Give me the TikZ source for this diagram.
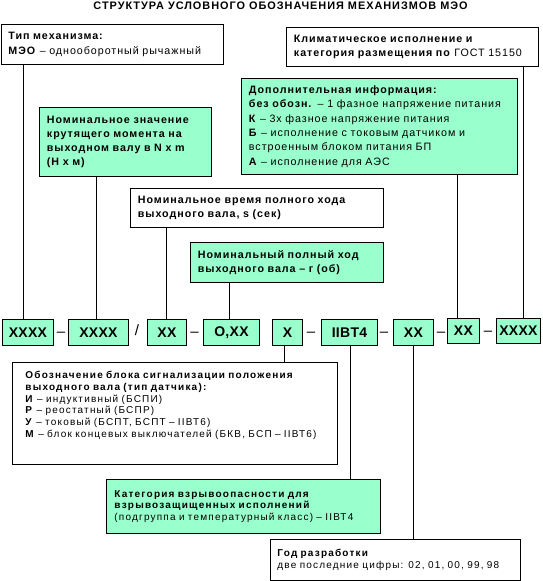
\documentclass[tikz,border=0pt]{standalone}
\usepackage{fontspec}
\setmainfont{Liberation Sans}[LetterSpace=9]
\definecolor{mint}{RGB}{153,255,204}

\begin{document}
\begin{tikzpicture}
   [x=1pt, y=-1pt, line width=0.9pt,
    plainbox/.style={draw, anchor=north west, align=left, inner xsep=7.5pt, inner ysep=0pt,
       font=\fontsize{10.7}{14.3}\selectfont},
    smallbox/.style={plainbox, inner xsep=8pt,
       font=\fontsize{10}{11.7}\selectfont\addfontfeatures{LetterSpace=12}},
    codebox/.style={draw, fill=mint, anchor=north west, inner sep=0pt,
       font=\fontsize{14}{15}\selectfont\addfontfeatures{LetterSpace=2}\bfseries},
    septext/.style={inner sep=0pt, font=\fontsize{15}{15}\selectfont}]
   \useasboundingbox (0,0) rectangle (543,581);

   \node[anchor=base, font=\fontsize{10.9}{12}\selectfont\bfseries] (title) at (280.5,9.5)
      {СТРУКТУРА УСЛОВНОГО ОБОЗНАЧЕНИЯ МЕХАНИЗМОВ МЭО};

   % upper boxes
   \node[plainbox, text width=207.5pt, minimum height=40pt] (mech) at (0.5,24)
      {\textbf{Тип механизма:}\\\textbf{МЭО} – однооборотный рычажный};
   \node[plainbox, fill=mint, text width=157pt, minimum height=69pt] (torque) at (39,107)
      {\textbf{Номинальное значение}\\\textbf{крутящего момента на}\\
       \textbf{выходном валу в N x m}\\\textbf{(Н х м)}};
   \node[plainbox, text width=237pt, minimum height=39pt] (clim) at (286,27)
      {\textbf{Климатическое исполнение и}\\\textbf{категория размещения по} ГОСТ 15150};
   \node[plainbox, fill=mint, text width=261pt, minimum height=96pt] (extra) at (241,78)
      {\textbf{Дополнительная информация:}\\
       \textbf{без обозн.} – 1 фазное напряжение питания\\
       \textbf{К} – 3х фазное напряжение питания\\
       \textbf{Б} – исполнение с токовым датчиком и\\
       встроенным блоком питания БП\\
       \textbf{А} – исполнение для АЭС};
   \node[plainbox, text width=238pt, minimum height=39pt] (time) at (130,188)
      {\textbf{Номинальное время полного хода}\\\textbf{выходного вала, s (сек)}};
   \node[plainbox, fill=mint, text width=178pt, minimum height=40pt] (stroke) at (190,242)
      {\textbf{Номинальный полный ход}\\\textbf{выходного вала – г (об)}};

   % code row
   \node[codebox, minimum width=51pt, minimum height=26pt] (c1) at (2,319) {XXXX};
   \node[codebox, minimum width=60pt, minimum height=26pt] (c2) at (68,319) {XXXX};
   \node[codebox, minimum width=39pt, minimum height=26pt] (c3) at (147,319) {XX};
   \node[codebox, minimum width=56pt, minimum height=26pt] (c4) at (203,319) {O,XX};
   \node[codebox, minimum width=30pt, minimum height=26pt] (c5) at (272,319) {X};
   \node[codebox, minimum width=56pt, minimum height=26pt] (c6) at (321,319) {IIBT4};
   \node[codebox, minimum width=40pt, minimum height=26pt] (c7) at (393,319) {XX};
   \node[codebox, minimum width=32pt, minimum height=25pt] (c8) at (447,318) {XX};
   \node[codebox, minimum width=44pt, minimum height=25pt] (c9) at (496,318) {XXXX};

   \node[septext] (d1) at (61,334) {–};
   \node[septext] (sl) at (137,330.5) {/};
   \node[septext] (d2) at (194.5,334) {–};
   \node[septext] (d3) at (311,334) {–};
   \node[septext] (d4) at (384,334) {–};
   \node[septext] (d5) at (441,334) {–};
   \node[septext] (d6) at (488,333) {–};

   % lower boxes
   \node[smallbox, inner xsep=13pt, text width=299pt, minimum height=102pt] (sensor) at (12,362)
      {\textbf{Обозначение блока сигнализации положения}\\
       \textbf{выходного вала (тип датчика):}\\
       \textbf{И} – индуктивный (БСПИ)\\
       \textbf{Р} – реостатный (БСПР)\\
       \textbf{У} – токовый (БСПТ, БСПТ – IIВТ6)\\
       \textbf{М} – блок концевых выключателей (БКВ, БСП – IIВТ6)\rule[-18pt]{0pt}{0pt}};
   \node[smallbox, fill=mint, text width=258pt, minimum height=54pt] (hazard) at (106,479)
      {\textbf{Категория взрывоопасности для}\\
       \textbf{взрывозащищенных исполнений}\\
       (подгруппа и температурный класс) – IIВТ4};
   \node[smallbox, inner xsep=7pt, text width=236pt, minimum height=41pt] (year) at (270,539)
      {\textbf{Год разработки}\\две последние цифры: 02, 01, 00, 99, 98};

   % connectors
   \draw ([xshift=-5pt]c1.north |- mech.south) -- ([xshift=-5pt]c1.north);
   \draw ([xshift=-2pt]c2.north |- torque.south) -- ([xshift=-2pt]c2.north);
   \draw ([xshift=-0.5pt]c3.north |- time.south) -- ([xshift=-0.5pt]c3.north);
   \draw ([xshift=-2pt]c4.north |- stroke.south) -- ([xshift=-2pt]c4.north);
   \draw ([xshift=-6.5pt]c8.north |- extra.south) -- ([xshift=-6.5pt]c8.north);
   \draw ([xshift=4.5pt]c9.north |- clim.south) -- ([xshift=4.5pt]c9.north);
   \draw ([xshift=-3pt]c5.south) -- ([xshift=-3pt]c5.south |- sensor.north);
   \draw ([xshift=1pt]c6.south) -- ([xshift=1pt]c6.south |- hazard.north);
   \draw (c7.south) -- (c7.south |- year.north);
\end{tikzpicture}
\end{document}
